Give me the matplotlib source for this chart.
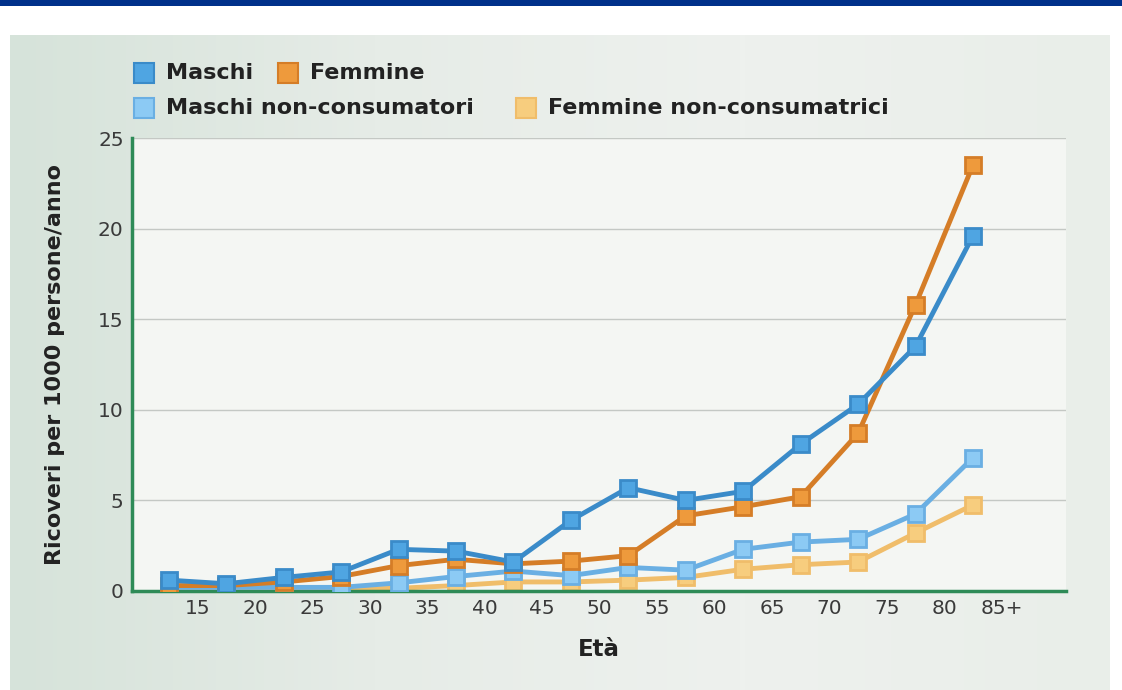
import numpy as np
import matplotlib
matplotlib.use("Agg")
from matplotlib import pyplot as plt
from matplotlib.patches import Rectangle
from matplotlib.colors import LinearSegmentedColormap

# eta' (punto centrale della classe) e valori
eta = [12.5, 17.5, 22.5, 27.5, 32.5, 37.5, 42.5, 47.5, 52.5, 57.5, 62.5, 67.5, 72.5, 77.5, 82.5]
maschi = [0.6, 0.4, 0.75, 1.05, 2.3, 2.2, 1.6, 3.9, 5.7, 5.0, 5.5, 8.1, 10.3, 13.5, 19.6]
femmine = [0.3, 0.3, 0.5, 0.8, 1.4, 1.75, 1.5, 1.65, 1.95, 4.15, 4.65, 5.2, 8.7, 15.8, 23.5]
maschi_nc = [0.2, 0.2, 0.2, 0.2, 0.45, 0.8, 1.1, 0.85, 1.3, 1.15, 2.3, 2.7, 2.85, 4.25, 7.35]
femmine_nc = [0.05, 0.05, 0.1, 0.1, 0.15, 0.3, 0.5, 0.5, 0.6, 0.75, 1.2, 1.45, 1.6, 3.2, 4.75]

xtick_pos = [15, 20, 25, 30, 35, 40, 45, 50, 55, 60, 65, 70, 75, 80, 85]
xtick_lab = ["15", "20", "25", "30", "35", "40", "45", "50", "55", "60", "65", "70", "75", "80", "85+"]
yticks = [0, 5, 10, 15, 20, 25]

serie = [
    ("Femmine non-consumatrici", femmine_nc, "#f0bd6a", "#f7cd7e", 2),
    ("Maschi non-consumatori", maschi_nc, "#6aafe3", "#8ccaf4", 3),
    ("Femmine", femmine, "#d57d27", "#ee9a3c", 4),
    ("Maschi", maschi, "#3a8bc9", "#4fa5e2", 5),
]

fig = plt.figure(figsize=(11.22, 6.9), dpi=100, facecolor="white")

# fascia blu in alto
fig.patches.append(Rectangle((0, 1 - 6 / 690), 1, 6 / 690, transform=fig.transFigure,
                             facecolor="#00318a", edgecolor="none"))

# pannello con sfumatura
bg = fig.add_axes([10 / 1122, 0, 1100 / 1122, 1 - 35 / 690])
grad = np.linspace(0, 1, 256).reshape(1, -1)
cmap = LinearSegmentedColormap.from_list("bg", ["#d6e3da", "#e6ece7", "#eef1ee", "#e9eee9"])
bg.imshow(grad, aspect="auto", cmap=cmap, extent=[0, 1, 0, 1])
bg.set_axis_off()

ax = fig.add_axes([132 / 1122, 1 - 591 / 690, (1066 - 132) / 1122, (591 - 138) / 690])
ax.set_facecolor("#f4f6f3")

for nome, vals, col, face, z in serie:
    ax.plot(eta, vals, color=col, lw=3.5, marker="s", ms=12,
            mfc=face, mec=col, mew=2, zorder=z, solid_joinstyle="miter")

ax.set_xlim(9.3, 90.6)
ax.set_ylim(0, 25)
ax.set_xticks(xtick_pos)
ax.set_xticklabels(xtick_lab)
ax.set_yticks(yticks)
ax.tick_params(length=0, labelsize=14.5, pad=6)
for t in ax.get_yticklabels() + ax.get_xticklabels():
    t.set_color("#3a3a3a")

ax.grid(axis="y", color="#c4c8c4", lw=1)
ax.set_axisbelow(True)
for s in ["top", "right"]:
    ax.spines[s].set_visible(False)
ax.spines["left"].set_color("#2e8b57")
ax.spines["bottom"].set_color("#2e8b57")
ax.spines["left"].set_linewidth(2.5)
ax.spines["bottom"].set_linewidth(2.5)

ax.set_xlabel("Età", fontsize=16.5, fontweight="bold", color="#222222", labelpad=14)
ax.set_ylabel("Ricoveri per 1000 persone/anno", fontsize=16, fontweight="bold",
              color="#222222", labelpad=24)

# legenda
leg = [
    ("Maschi", "#4fa5e2", "#3a8bc9", 134, 73),
    ("Femmine", "#ee9a3c", "#d57d27", 278, 73),
    ("Maschi non-consumatori", "#8ccaf4", "#6aafe3", 134, 108),
    ("Femmine non-consumatrici", "#f7cd7e", "#f0bd6a", 516, 108),
]
for nome, face, edge, px, py in leg:
    fig.patches.append(Rectangle((px / 1122, 1 - (py + 10) / 690), 20 / 1122, 20 / 690,
                                 transform=fig.transFigure, facecolor=face,
                                 edgecolor=edge, lw=1.5))
    fig.text((px + 32) / 1122, 1 - py / 690, nome, fontsize=16, fontweight="bold",
             color="#222222", va="center", ha="left")

fig.savefig("out.png", dpi=100, facecolor=fig.get_facecolor())
